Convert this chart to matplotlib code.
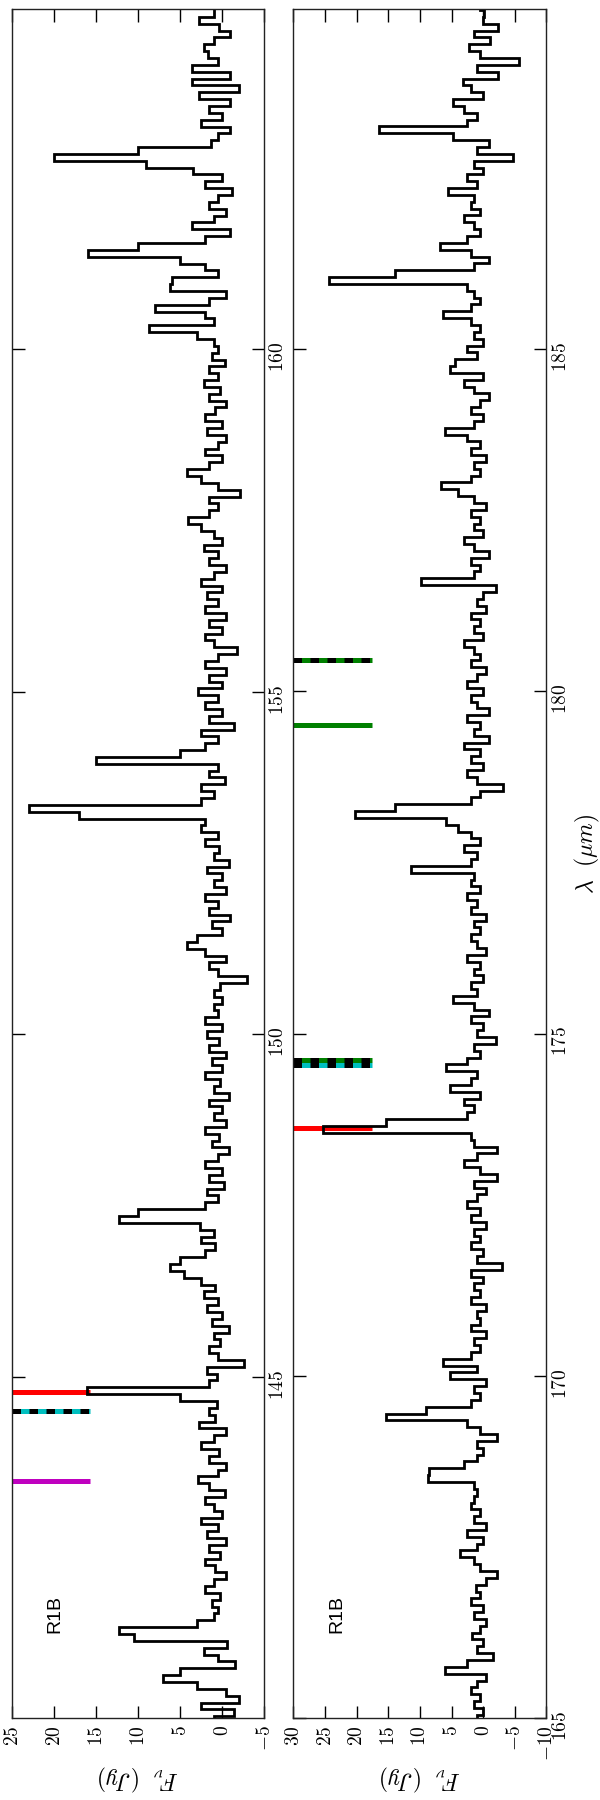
import numpy as np
import matplotlib.pyplot as plt
from matplotlib.ticker import MultipleLocator, FuncFormatter

plt.rcParams['mathtext.fontset'] = 'cm'

# R1B spectrum, 140-165 um, sampled every 0.1 um (Jy)
flux_a = [
    1.0, -1.4, 2.5, -2.0, -0.5, 3.0, 7.0, 5.0, -1.6, 0.5,
    2.2, -0.6, 10.5, 12.3, 3.0, 1.0, 0.5, 1.2, 0.2, 2.0,
    1.0, -0.5, 0.8, 2.0, 0.2, 1.5, -0.5, 1.8, 0.5, 2.5,
    0.0, 1.0, 2.0, -0.3, 1.5, 2.9, 0.5, -0.5, 1.6, 0.3,
    2.5, 1.0, -0.5, 2.7, 0.8, 1.5, 0.6, 5.0, 16.1, 1.5,
    0.6, 1.8, -2.6, 0.5, 1.5, 0.2, 1.0, -0.8, 1.2, 0.0,
    1.8, 0.5, 2.2, 0.8, 2.5, 4.5, 6.2, 5.0, 2.0, 0.8,
    2.5, 1.0, 2.6, 12.3, 10.0, 2.0, 0.5, 1.8, -0.2, 1.5,
    0.0, 2.0, 0.5, -0.8, 1.2, 0.3, 2.0, -0.5, 1.0, 0.0,
    1.5, -0.8, 1.0, 0.2, 2.0, 0.0, 1.2, -0.5, 1.5, 0.3,
    1.8, 0.0, 2.0, 0.5, 1.0, 0.0, 1.0, 0.2, -3.0, 0.5,
    1.5, -0.5, 2.0, 4.2, 3.0, 0.0, 1.2, -1.0, 1.5, 0.5,
    2.0, -0.5, 1.0, 0.0, 1.8, -0.8, 1.0, 0.3, 2.0, 0.5,
    2.5, 2.0, 17.0, 23.0, 2.5, 1.0, 2.5, -0.3, 1.5, 0.5,
    15.0, 5.0, 2.0, 0.5, 2.5, -1.4, 1.5, 0.0, 2.0, 0.5,
    2.8, 0.0, 1.5, -0.5, 2.0, 0.5, -1.8, 1.0, 2.0, 0.0,
    1.5, -0.5, 2.0, 0.5, 1.8, 0.0, 2.5, 1.0, -0.5, 1.5,
    0.5, 2.2, 0.0, 1.0, 2.5, 4.0, 1.5, 0.5, 1.5, -2.2,
    0.5, 2.5, 4.2, 1.5, 0.0, 2.0, 0.5, -0.5, 1.8, 0.0,
    2.0, 0.8, -0.5, 1.5, 0.2, 2.2, 0.5, 1.5, -0.3, 1.2,
    0.5, 1.0, 3.0, 8.7, 1.0, 2.0, 8.0, 1.5, -0.5, 6.2,
    6.0, 0.5, 2.0, 5.0, 15.9, 10.0, 2.0, -1.0, 3.6, 1.0,
    -0.5, 1.5, 0.5, -1.2, 2.0, 0.0, 3.5, 9.0, 20.0, 10.0,
    1.3, 0.5, -1.0, 2.5, 0.0, 1.5, -1.0, 2.7, -2.0, 3.6,
    -1.0, 3.6, 0.5, 1.7, 2.1, 0.9, -1.0, 0.4, 2.7, 0.9,
    0.9,
]

# R1B spectrum, 165-190 um
flux_b = [
    1.0, 0.0, 1.5, 0.5, 2.0, 1.0, -0.5, 6.0, 2.5, -1.6,
    1.0, 0.0, 1.8, 0.5, -0.5, 1.5, 0.0, 2.0, 0.5, 1.2,
    -0.5, -2.2, 0.5, 1.5, 3.6, 1.0, 0.0, 2.5, -0.5, 1.5,
    0.5, 2.0, 1.5, 1.0, 1.5, 8.7, 8.5, 3.0, 1.0, 0.0,
    1.0, -2.2, 0.5, 2.5, 15.3, 9.0, 2.0, 0.5, 1.5, -0.5,
    5.2, 1.0, 6.3, 2.0, 0.5, 1.5, -0.5, 2.0, 0.5, 1.0,
    -0.5, 2.0, 0.5, 1.5, 0.0, 2.0, -3.0, 1.0, 0.0, 2.0,
    0.5, 1.5, -0.5, 2.0, 0.5, 2.5, 1.0, -0.5, 1.5, -2.2,
    0.5, 3.0, 1.0, -2.2, 1.5, 2.0, 25.3, 15.3, 2.5, 1.5,
    3.0, 0.5, 5.2, 2.0, 1.0, 5.8, 2.5, 0.5, 1.5, -2.0,
    1.0, 0.0, 2.0, -1.0, 1.5, 4.8, 1.0, 2.0, 0.0, 1.5,
    0.5, 2.5, -0.5, 1.0, 2.0, 0.5, 1.5, -0.5, 2.0, 1.0,
    2.5, 0.5, 2.0, 1.5, 11.4, 2.0, 1.0, 3.0, 0.5, 2.0,
    4.0, 5.8, 20.3, 14.0, 2.0, 0.5, -3.1, 1.0, 2.5, 0.0,
    2.0, 0.5, 3.0, -1.0, 1.5, 0.5, 2.5, -1.0, 1.0, 2.0,
    0.0, 2.5, 1.0, -0.5, 2.0, 0.5, 1.5, 3.0, 0.0, 1.5,
    0.5, 2.0, -0.5, 1.0, 0.0, -2.0, 9.8, 1.5, 0.5, 2.0,
    -1.0, 1.5, 3.0, 0.0, 1.5, 0.5, 2.0, -0.5, 1.5, 4.0,
    6.6, 2.0, 0.5, 1.5, -0.5, 2.0, 0.5, 2.5, 6.1, 1.5,
    0.0, 2.0, 0.5, -1.0, 1.5, 3.0, 0.0, 5.3, 4.5, 1.0,
    2.5, 0.0, 1.5, 0.5, 2.0, 6.4, 2.0, 0.5, 1.5, 2.5,
    24.3, 14.0, 1.5, -1.0, 2.0, 6.9, 2.5, 0.5, 1.5, 3.0,
    0.5, 2.0, 1.5, 5.6, 1.0, 2.5, 0.0, 1.5, -4.7, 1.0,
    -1.0, 4.7, 16.5, 2.5, 1.0, 3.0, 4.8, 0.0, 2.0, 3.2,
    -2.3, 1.0, -5.6, 0.5, 2.2, -1.1, 1.5, -2.3, 0.0, -0.2,
    0.5,
]

lam_a = np.linspace(140.0, 165.0, len(flux_a))
lam_b = np.linspace(165.0, 190.0, len(flux_b))

# line identifications: wavelength, colour, dashed overlay
marks_a = [(143.48, 'm', False), (144.50, 'c', True), (144.78, 'r', False)]
marks_b = [(173.62, 'r', False), (174.54, 'c', True), (174.61, 'g', True),
           (179.50, 'g', False), (180.46, 'g', True)]


def fmt(v, pos):
    return r'$%g$' % v


def draw_panel(ax, lam, flux, marks, flim, llim):
    for wl, col, dashed in marks:
        ax.axhline(wl, xmin=0, xmax=0.31, color=col, lw=3.6,
                   solid_capstyle='butt', zorder=1)
        if dashed:
            ax.axhline(wl, xmin=0, xmax=0.31, color='k', lw=3.6,
                       linestyle=(0, (1.7, 1.7)), dash_capstyle='butt', zorder=1)
    step = lam[1] - lam[0]
    edges = np.append(lam - step / 2, lam[-1] + step / 2)
    ax.stairs(flux, edges, orientation='horizontal', baseline=None,
              color='k', lw=2.0, zorder=2)
    ax.set_xlim(*flim)
    ax.set_ylim(*llim)
    ax.xaxis.set_major_locator(MultipleLocator(5))
    ax.yaxis.set_major_locator(MultipleLocator(5))
    ax.xaxis.set_major_formatter(FuncFormatter(fmt))
    ax.yaxis.set_major_formatter(FuncFormatter(fmt))
    ax.tick_params(axis='both', direction='in', length=9, width=1,
                   top=True, bottom=True, left=True, right=True,
                   labelsize=14, labelrotation=90)
    ax.tick_params(axis='x', pad=5)
    ax.tick_params(axis='y', labelleft=False, labelright=True, pad=3)
    for s in ax.spines.values():
        s.set_linewidth(1.0)
        s.set_color('#222222')
    ax.text(0.17, 0.061, 'R1B', transform=ax.transAxes, rotation=90,
            ha='center', va='center', fontsize=14, family='Liberation Sans')
    ax.set_xlabel(r'$F_\nu\ \ (Jy)$', fontsize=17, rotation=180)
    ax.xaxis.set_label_coords(0.5, -0.026)


fig = plt.figure(figsize=(6, 18), dpi=100)
ax1 = fig.add_axes([0.02, 0.0454, 0.42, 0.9494])
ax2 = fig.add_axes([0.489, 0.0454, 0.4217, 0.9494])

draw_panel(ax1, lam_a, flux_a, marks_a, (25, -5), (140.02, 164.96))
draw_panel(ax2, lam_b, flux_b, marks_b, (30, -10), (164.999, 189.96))

ax2.yaxis.set_label_position('right')
ax2.set_ylabel(r'$\lambda\ \ (\mu m)$', fontsize=17, rotation=90)
ax2.yaxis.set_label_coords(1.105, 0.506)

fig.savefig('out.png', dpi=100)
